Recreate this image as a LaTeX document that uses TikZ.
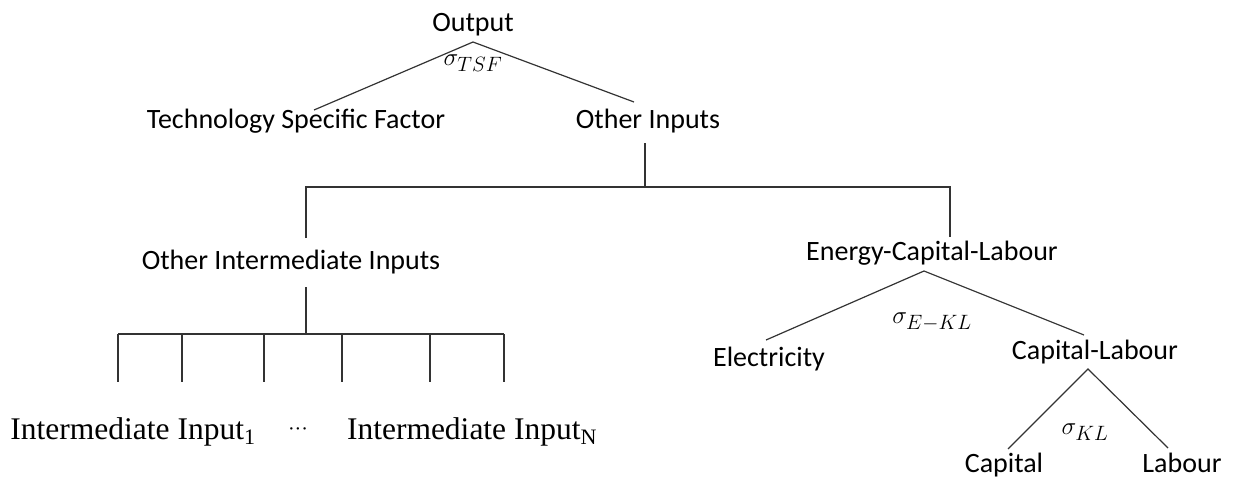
\documentclass[tikz,border=0pt]{standalone}
\usepackage{fontspec}
\setmainfont{Carlito}
\newfontfamily\inputfont{Liberation Serif}
\usetikzlibrary{positioning,calc}

\begin{document}
\begin{tikzpicture}[x=1pt, y=-1pt,
    lbl/.style={anchor=base, inner sep=0pt, font=\fontsize{28}{32}\selectfont},
    ser/.style={anchor=base, inner sep=0pt, font=\fontsize{31.5}{35}\selectfont\inputfont},
    sig/.style={inner sep=0pt, font=\fontsize{30}{34}\selectfont},
    link/.style={line width=1.2pt, black!80}
]
    \useasboundingbox (0,0) rectangle (1233,480);
    % labels
    \node[lbl] (output) at (473,31) {Output};
    \node[lbl] (tsf) at (296,128) {Technology Specific Factor};
    \node[lbl] (other) at (648,128) {Other Inputs};
    \node[lbl] (oii) at (291,269) {Other Intermediate Inputs};
    \node[lbl] (ecl) at (932,260) {Energy-Capital-Labour};
    \node[lbl] (elec) at (769,366) {Electricity};
    \node[lbl] (kl) at (1095,359) {Capital-Labour};
    \node[lbl] (cap) at (1004,472) {Capital};
    \node[lbl] (lab) at (1182,472) {Labour};
    \node[ser] (inone) at (133,439) {Intermediate Input\textsubscript{1}};
    \node[ser, anchor=center, font=\fontsize{20}{24}\selectfont\inputfont] (dots) at (298,432) {···};
    \node[ser] (inN) at (472,439) {Intermediate Input\textsubscript{N}};
    % elasticities
    \node[sig] (stsf) at (473,63) {$\sigma_{TSF}$};
    \node[sig] (sekl) at (932,322) {$\sigma_{E-KL}$};
    \node[sig] (skl) at (1085,432) {$\sigma_{KL}$};
    % junctions
    \coordinate (top) at (473,42);
    \coordinate (tsfend) at (314,110);
    \coordinate (othend) at (634,102);
    \coordinate (j0) at (645,143);
    \coordinate (j1) at (645,187);
    \coordinate (j1l) at (306,187);
    \coordinate (j1r) at (950,187);
    \coordinate (oiitop) at (306,238);
    \coordinate (oiibot) at (306,287);
    \coordinate (j2) at (306,334);
    \coordinate (ecltop) at (950,237);
    \coordinate (etop) at (924,271);
    \coordinate (elecend) at (766,340);
    \coordinate (klend) at (1084,335);
    \coordinate (ktop) at (1088,369);
    \coordinate (capend) at (1008,449);
    \coordinate (labend) at (1168,448);
    \draw[link] (tsfend) -- (top) -- (othend);
    \draw[link] (j0) -- (j1);
    \draw[link] (oiitop) -- (j1l) -- (j1r) -- (ecltop);
    \draw[link] (oiibot) -- (j2);
    \draw[link] (118,334) -- (504,334);
    \foreach \x in {118,182,264,342,430,504}
        \draw[link] (\x,334) -- (\x,382);
    \draw[link] (elecend) -- (etop) -- (klend);
    \draw[link] (capend) -- (ktop) -- (labend);
\end{tikzpicture}
\end{document}
